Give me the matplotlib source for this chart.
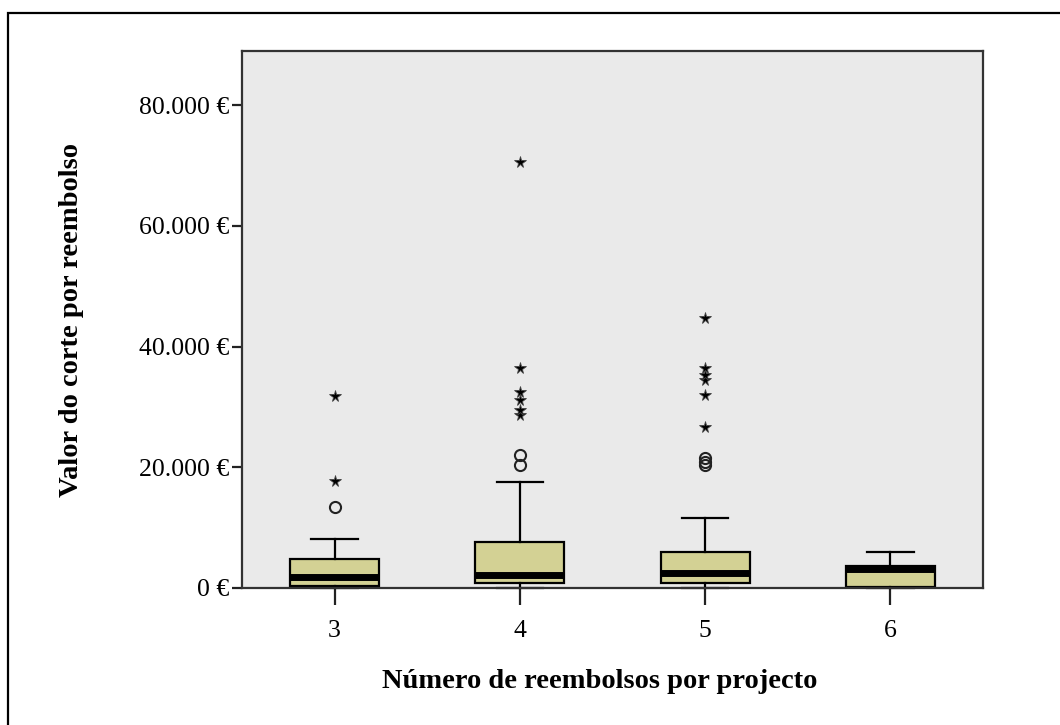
"""Box plot: valor do corte por reembolso vs número de reembolsos."""

import matplotlib

matplotlib.use("Agg")
import matplotlib.pyplot as plt
from matplotlib.patches import Rectangle
from matplotlib.ticker import FuncFormatter

CATEGORIES = ["3", "4", "5", "6"]
Q1 = [400, 880, 780, 220]
MEDIANS = [1800, 2100, 2550, 3200]
Q3 = [4750, 7670, 6010, 3640]
WHISKER_LOW = [0, 0, 0, 0]
WHISKER_HIGH = [8170, 17600, 11540, 6010]
# mild outliers (circles) and extreme outliers (stars) per category
OUTLIERS = [
    [13470],
    [20400, 22000],
    [20300, 20900, 21500],
    [],
]
EXTREMES = [
    [17720, 31800],
    [28700, 29500, 31200, 32500, 36400, 70600],
    [26700, 32000, 34500, 35300, 36400, 44700],
    [],
]
Y_TICKS = [0, 20000, 40000, 60000, 80000]

BACKGROUND = "#eaeaea"
BOX_COLOR = "#d3d194"
FONT = "Liberation Serif"

plt.rcParams["font.family"] = FONT

fig = plt.figure(figsize=(10.6, 7.25), dpi=100)
ax = fig.add_axes((242 / 1060, 137 / 725, 741 / 1060, 537 / 725))
ax.set_facecolor(BACKGROUND)

stats = []
for i, label in enumerate(CATEGORIES):
    stats.append(
        {
            "label": label,
            "q1": Q1[i],
            "med": MEDIANS[i],
            "q3": Q3[i],
            "whislo": WHISKER_LOW[i],
            "whishi": WHISKER_HIGH[i],
            "fliers": [],
        }
    )

positions = list(range(len(CATEGORIES)))
ax.bxp(
    stats,
    positions=positions,
    widths=0.48,
    capwidths=0.25,
    patch_artist=True,
    showfliers=False,
    boxprops={"facecolor": BOX_COLOR, "edgecolor": "black", "linewidth": 1.6},
    medianprops={"color": "black", "linewidth": 5.0, "solid_capstyle": "butt"},
    whiskerprops={"color": "black", "linewidth": 1.6},
    capprops={"color": "black", "linewidth": 1.6},
)

for pos, values in zip(positions, OUTLIERS):
    if values:
        ax.plot([pos] * len(values), values, linestyle="none", marker="o",
                markersize=8, markerfacecolor="none", markeredgecolor="#222222",
                markeredgewidth=1.5, zorder=4)
for pos, values in zip(positions, EXTREMES):
    if values:
        ax.plot([pos] * len(values), values, linestyle="none", marker="*",
                markersize=8.5, markerfacecolor="black", markeredgecolor="#444444",
                markeredgewidth=0.6, zorder=4)

ax.set_xlim(-0.5, len(CATEGORIES) - 0.5)
ax.set_ylim(0, 88950)
ax.set_xticks(positions)
ax.set_xticklabels(CATEGORIES)
ax.set_yticks(Y_TICKS)
ax.yaxis.set_major_formatter(
    FuncFormatter(lambda v, _: f"{int(v):,} €".replace(",", "."))
)

for child in ax.get_children():
    if hasattr(child, "set_clip_on"):
        child.set_clip_on(False)

for spine in ax.spines.values():
    spine.set_color("#333333")
    spine.set_linewidth(1.6)

ax.tick_params(axis="y", length=7, width=1.6, pad=2, labelsize=18.5, colors="#222222")
ax.tick_params(axis="x", length=12, width=1.6, pad=11, labelsize=18.5, colors="#222222")
for lbl in ax.get_xticklabels() + ax.get_yticklabels():
    lbl.set_color("black")

fig.text(72 / 1060, 1 - 320 / 725, "Valor do corte por reembolso", rotation=90,
         ha="center", va="center", fontsize=20.5, fontweight="bold")
fig.text(600 / 1060, 1 - 682 / 725, "Número de reembolsos por projecto",
         ha="center", va="center", fontsize=20.5, fontweight="bold")

# outer frame, cut off by the right and bottom edges of the picture
fig.patches.append(
    Rectangle((8 / 1060, -0.1), 1.2, 1.1 - 13 / 725, transform=fig.transFigure,
              fill=False, edgecolor="black", linewidth=1.6)
)

fig.savefig("out.png", dpi=100)
